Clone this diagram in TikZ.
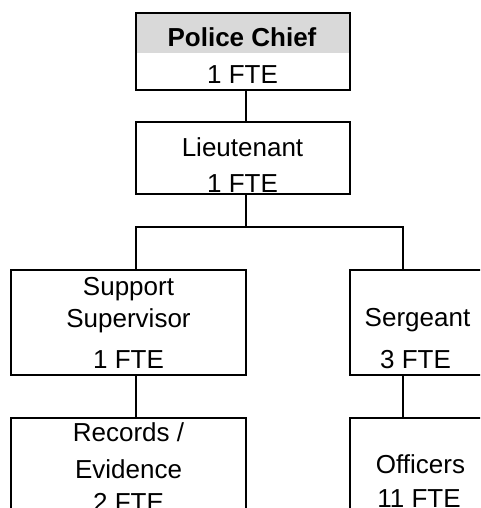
\documentclass[tikz,border=0pt]{standalone}
\usepackage{fontspec}
\setmainfont{Liberation Sans}
\definecolor{headgray}{HTML}{D9D9D9}
\begin{document}
\begin{tikzpicture}[x=1pt,y=-1pt,
  box/.style={draw=black, line width=2.2pt, rectangle, inner sep=0pt},
  txt/.style={anchor=base, inner sep=0pt, font=\fontsize{26}{31}\selectfont},
  link/.style={draw=black, line width=2pt}]
\useasboundingbox (0,0) rectangle (480,508);
\clip (0,0) rectangle (480,508);

% shaded title band of the top box
\fill[headgray] (136,12.7) rectangle (350,52.7);

% boxes
\node[box, minimum width=214pt, minimum height=77pt]  (chief) at (243,51.3) {};
\node[box, minimum width=214pt, minimum height=72pt]  (lieu)  at (243,158) {};
\node[box, minimum width=235pt, minimum height=105pt] (sup)   at (128.5,322.5) {};
\node[box, minimum width=140pt, minimum height=105pt] (serg)  at (420,322.5) {};
\node[box, minimum width=235pt, minimum height=142pt] (rec)   at (128.5,489) {};
\node[box, minimum width=140pt, minimum height=142pt] (off)   at (420,489) {};

% labels
\node[txt, font=\fontsize{26}{31}\selectfont\bfseries] (chiefname) at (242,46.7) {Police Chief};
\node[txt] (chieffte) at (242.5,83.3) {1 FTE};
\node[txt] (lieuname) at (242.5,156.7) {Lieutenant};
\node[txt] (lieufte)  at (242.5,192.7) {1 FTE};
\node[txt] (supname1) at (128.5,295.5) {Support};
\node[txt] (supname2) at (128.5,327) {Supervisor};
\node[txt] (supfte)   at (128.5,368.3) {1 FTE};
\node[txt] (sergname) at (417.5,326.7) {Sergeant};
\node[txt] (sergfte)  at (415.5,368.3) {3 FTE};
\node[txt] (recname1) at (128.5,441.7) {Records /};
\node[txt] (recname2) at (128.5,478.3) {Evidence};
\node[txt] (recfte)   at (128.5,511.8) {2 FTE};
\node[txt] (offname)  at (420.5,473.3) {Officers};
\node[txt] (offfte)   at (419,507) {11 FTE};

% reporting lines
\coordinate (spine) at (246,227);
\coordinate (leftdrop) at (136,227);
\coordinate (rightdrop) at (403,227);
\draw[link] (chief.south -| spine) -- (lieu.north -| spine);
\draw[link] (lieu.south -| spine) -- (spine);
\draw[link] (sup.north -| leftdrop) -- (leftdrop) -- (rightdrop) -- (serg.north -| rightdrop);
\draw[link] (sup.south -| leftdrop) -- (rec.north -| leftdrop);
\draw[link] (serg.south -| rightdrop) -- (off.north -| rightdrop);
\end{tikzpicture}
\end{document}
